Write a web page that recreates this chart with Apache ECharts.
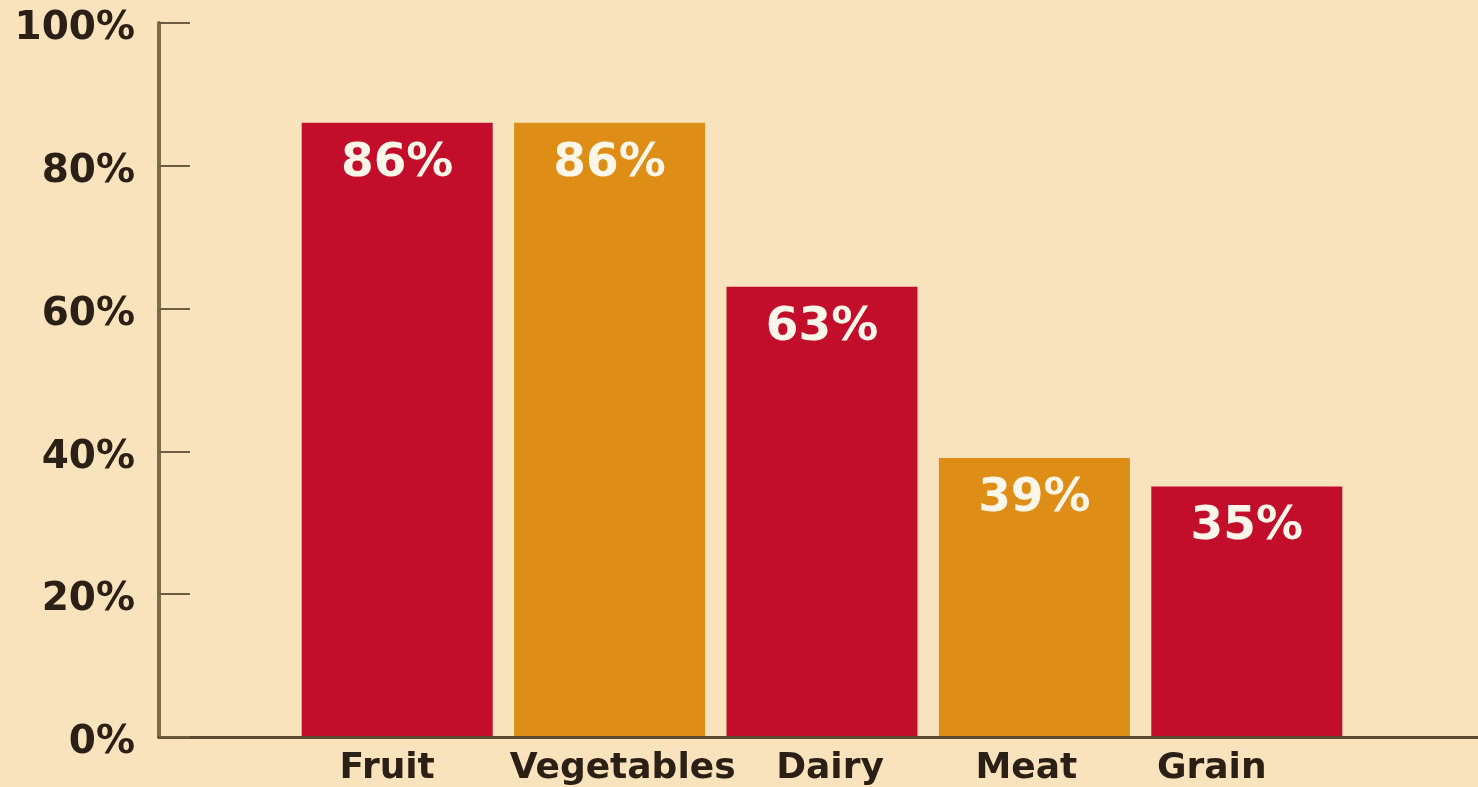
<!DOCTYPE html>
<html>
<head>
<meta charset="utf-8">
<script src="https://cdn.jsdelivr.net/npm/echarts@6/dist/echarts.min.js"></script>
<style>
html,body{margin:0;padding:0;background:#f9e3bd;}
#chart{width:1478px;height:787px;}
</style>
</head>
<body>
<div id="chart"></div>
<script>
// ---- data ----
const categories = ['Fruit', 'Vegetables', 'Dairy', 'Meat', 'Grain'];
const values = [86, 86, 63, 39, 35];
const yTicks = [0, 20, 40, 60, 80, 100];

// ---- styles ----
const barColors = ['#c20e2b', '#de8e17'];
const labelShift = [20, -26, -16, 16, 70]; // right padding to nudge labels

const chart = echarts.init(document.getElementById('chart'));
const rich = {};
categories.forEach((c, i) => {
  const s = labelShift[i];
  rich['c' + i] = {
    fontFamily: 'DejaVu Sans', fontWeight: 'bold', fontSize: 36, color: '#2b2015',
    padding: s >= 0 ? [0, s, 0, 0] : [0, 0, 0, -s]
  };
});

chart.setOption({
  backgroundColor: '#f9e3bd',
  animation: false,
  grid: [
    { left: 159, right: 0, top: 23, bottom: 50 },
    { left: 291, right: 125, top: 23, bottom: 50 }
  ],
  xAxis: [
    {
      gridIndex: 0, type: 'value', min: 0, max: 1,
      axisLine: { show: true, lineStyle: { color: '#5c4a30', width: 3 } },
      axisTick: { show: false }, axisLabel: { show: false }, splitLine: { show: false }
    },
    {
      gridIndex: 1, type: 'category', data: categories,
      axisLine: { show: false }, axisTick: { show: false },
      axisLabel: {
        margin: 15,
        formatter: (v, i) => '{c' + i + '|' + v + '}',
        rich: rich
      }
    }
  ],
  yAxis: [
    {
      gridIndex: 0, type: 'value', min: yTicks[0], max: yTicks[yTicks.length - 1], interval: 20,
      axisLine: { show: true, lineStyle: { color: '#7d6b4c', width: 4 } },
      axisTick: { show: true, inside: true, length: 31, lineStyle: { color: '#6e5c40', width: 2 } },
      axisLabel: {
        formatter: v => '{a|' + v + '%}', margin: 24,
        rich: {
          a: {
            fontFamily: 'DejaVu Sans', fontWeight: 'bold', fontSize: 39, color: '#2b2015',
            padding: [12, 0, 0, 0]
          }
        }
      },
      splitLine: { show: false }
    },
    {
      gridIndex: 1, type: 'value', min: 0, max: 100, show: false, splitLine: { show: false }
    }
  ],
  series: [{
    type: 'bar',
    xAxisIndex: 1, yAxisIndex: 1,
    data: values,
    barWidth: 191,
    itemStyle: { color: p => barColors[p.dataIndex % 2] },
    label: {
      show: true, position: 'insideTop', distance: 17,
      formatter: '{c}%',
      fontFamily: 'DejaVu Sans', fontWeight: 'bold', fontSize: 47, color: '#fff6ea'
    }
  }]
});
</script>
</body>
</html>
